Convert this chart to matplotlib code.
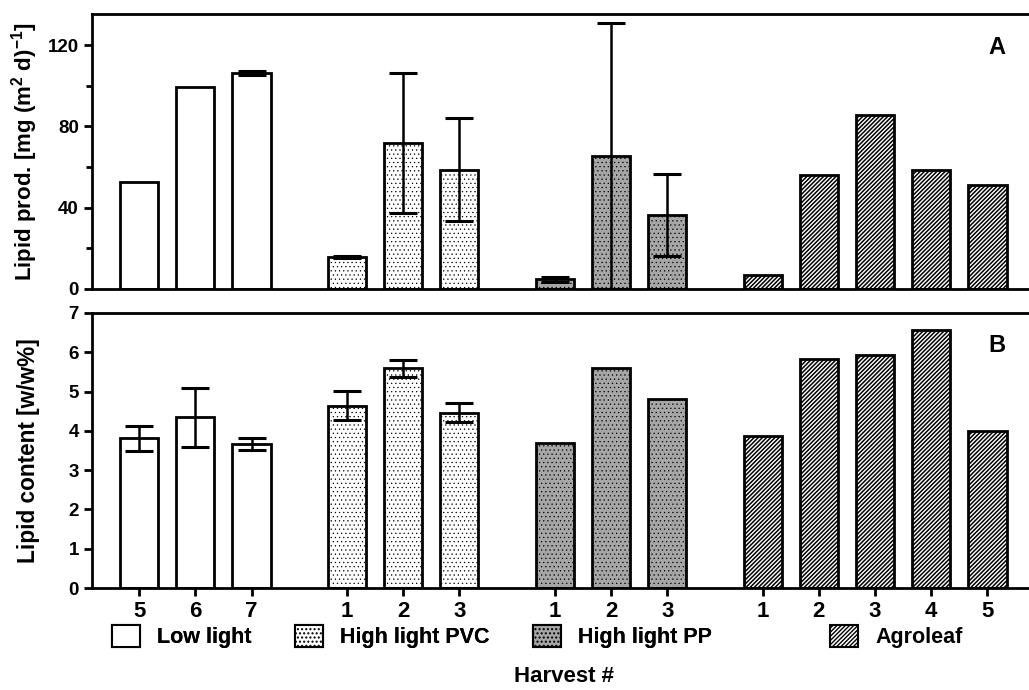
import matplotlib
matplotlib.use("Agg")
import matplotlib.pyplot as plt
from matplotlib.patches import Patch
from matplotlib.ticker import MultipleLocator
from matplotlib import font_manager
import numpy as np

plt.rcParams['font.family'] = ['Liberation Sans', 'DejaVu Sans']
plt.rcParams['font.weight'] = 'bold'
plt.rcParams['mathtext.fontset'] = 'custom'
plt.rcParams['mathtext.rm'] = 'Liberation Sans:bold'
plt.rcParams['mathtext.it'] = 'Liberation Sans:bold'
plt.rcParams['mathtext.bf'] = 'Liberation Sans:bold'
plt.rcParams['mathtext.default'] = 'regular'
plt.rcParams['hatch.linewidth'] = 1.0

try:
    font_manager.findfont(font_manager.FontProperties(family='Liberation Sans Narrow'),
                          fallback_to_default=False)
    NARROW = ['Liberation Sans Narrow', 'Liberation Sans']
except Exception:
    NARROW = ['Liberation Sans']

# ---- data ----
groups = ["Low light", "High light PVC", "High light PP", "Agroleaf"]
harvests = [[5, 6, 7], [1, 2, 3], [1, 2, 3], [1, 2, 3, 4, 5]]

prod_low = [52.6, 99.5, 106.2]
prod_low_err = [0, 0, 1.0]
prod_pvc = [15.6, 71.7, 58.7]
prod_pvc_err = [0.6, 34.5, 25.2]
prod_pp = [4.7, 65.4, 36.4]
prod_pp_err = [1.2, 65.6, 20.0]
prod_agro = [6.7, 56.1, 85.6, 58.5, 51.2]
prod_agro_err = [0, 0, 0, 0, 0]

cont_low = [3.81, 4.34, 3.67]
cont_low_err = [0.32, 0.76, 0.16]
cont_pvc = [4.64, 5.59, 4.46]
cont_pvc_err = [0.37, 0.21, 0.24]
cont_pp = [3.70, 5.60, 4.81]
cont_pp_err = [0, 0, 0]
cont_agro = [3.86, 5.83, 5.94, 6.57, 4.00]
cont_agro_err = [0, 0, 0, 0, 0]

prod = [prod_low, prod_pvc, prod_pp, prod_agro]
prod_err = [prod_low_err, prod_pvc_err, prod_pp_err, prod_agro_err]
cont = [cont_low, cont_pvc, cont_pp, cont_agro]
cont_err = [cont_low_err, cont_pvc_err, cont_pp_err, cont_agro_err]

# ---- styles ----
faces = ['white', 'white', '#a6a6a6', 'white']
hatches = [None, '....', '....', '////////']
hatch_lw = [1.0, 0.4, 0.4, 1.1]
group_gap = 0.7
bar_w = 0.68

positions = []
start = 0.0
for h in harvests:
    positions.append(start + np.arange(len(h)))
    start = positions[-1][-1] + 1 + group_gap

fig = plt.figure(figsize=(10.29, 6.9), dpi=100)
axA = fig.add_axes([0.0894, 0.5812, 0.9106, 0.3985])
axB = fig.add_axes([0.0894, 0.1478, 0.9106, 0.3986])

def set_hlw(p, lw):
    try:
        p.set_hatch_linewidth(lw)
    except Exception:
        pass

def draw(ax, vals, errs):
    for pos, v, e, fc, ht, hl in zip(positions, vals, errs, faces, hatches, hatch_lw):
        bars = ax.bar(pos, v, width=bar_w, color=fc, edgecolor='black', linewidth=2.0,
                      hatch=ht, zorder=2)
        for b in bars:
            set_hlw(b, hl)
        e = np.array(e)
        mask = e > 0
        if mask.any():
            ax.errorbar(np.array(pos)[mask], np.array(v)[mask], yerr=e[mask],
                        fmt='none', ecolor='black', elinewidth=1.8,
                        capsize=10, capthick=2.2, zorder=3)
    ax.set_xlim(-0.84, 15.84)
    ax.spines['right'].set_visible(False)
    for s in ['top', 'bottom', 'left']:
        ax.spines[s].set_linewidth(2.0)
    ax.tick_params(axis='both', width=2.0, length=6, labelsize=13.5, direction='out')
    ax.tick_params(axis='y', which='minor', width=2.0, length=4)

draw(axA, prod, prod_err)
draw(axB, cont, cont_err)

axA.set_ylim(0, 135.3)
axA.yaxis.set_major_locator(MultipleLocator(40))
axA.yaxis.set_minor_locator(MultipleLocator(20))
axA.set_xticks([])
axA.set_ylabel(r'Lipid prod. [mg (m$^{2}$ d)$^{-1}$]', fontsize=16, fontweight='bold')
axA.yaxis.set_label_coords(-0.055, 0.5)
axA.text(0.975, 0.88, 'A', transform=axA.transAxes, fontsize=17, fontweight='bold',
         ha='right', va='center')

axB.set_ylim(0, 7)
axB.set_yticks(range(0, 8))
allpos = np.concatenate(positions)
alllab = [str(x) for h in harvests for x in h]
axB.set_xticks(allpos)
axB.set_xticklabels(alllab, fontsize=16, family=NARROW)
axB.set_ylabel('Lipid content [w/w%]', fontsize=16.3, fontweight='bold')
axB.yaxis.set_label_coords(-0.056, 0.5)
axB.text(0.975, 0.88, 'B', transform=axB.transAxes, fontsize=17, fontweight='bold',
         ha='right', va='center')

handles = [Patch(facecolor=fc, edgecolor='black', linewidth=1.5, hatch=ht, label=g)
           for g, fc, ht in zip(groups, faces, hatches)]
for hnd, hl in zip(handles, hatch_lw):
    set_hlw(hnd, hl)
leg_font = {'family': NARROW, 'weight': 'bold', 'size': 15.5}
leg1 = fig.legend(handles=handles[:3], loc='center left', bbox_to_anchor=(0.0985, 0.077),
                  ncol=3, frameon=False, prop=leg_font, handlelength=1.3, handleheight=1.15,
                  handletextpad=0.8, columnspacing=2.0, borderpad=0)
fig.legend(handles=handles[3:], loc='center left', bbox_to_anchor=(0.796, 0.077),
           ncol=1, frameon=False, prop=leg_font, handlelength=1.3, handleheight=1.15,
           handletextpad=0.8, borderpad=0)
fig.add_artist(leg1)

fig.text(0.548, 0.019, 'Harvest #', ha='center', va='center', fontsize=16,
         fontweight='bold', family=NARROW)

fig.savefig('out.png', dpi=100, facecolor='white')
